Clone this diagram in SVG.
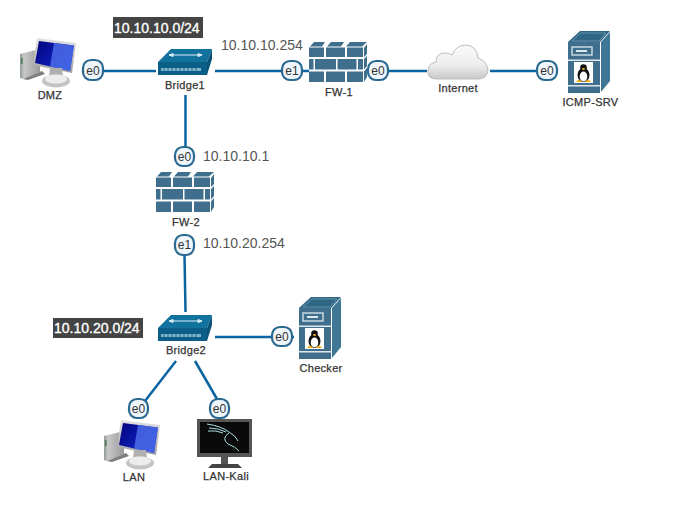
<svg xmlns="http://www.w3.org/2000/svg" width="686" height="515" viewBox="0 0 686 515">
<style>
.lbl{font:11px "Liberation Sans",Arial,sans-serif;fill:#333;stroke:#333;stroke-width:.25;letter-spacing:.3px;text-anchor:middle}
.ip{font:14px "Liberation Sans",Arial,sans-serif;fill:#555}
.net{font:14px "Liberation Sans",Arial,sans-serif;fill:#fff;stroke:#fff;stroke-width:.35}
.netbg{fill:#444}
.badge rect{fill:#eef6fc;stroke:#2b688f;stroke-width:2.2}
.badge text{font:12px "Liberation Sans",Arial,sans-serif;fill:#333;text-anchor:middle}
.conn{stroke:#0a64a0;stroke-width:2.5;fill:none}
.t{fill:#3f6f8c}
</style>
<defs>
<linearGradient id="scr" x1="0" y1="0" x2="1" y2="0.600"><stop offset="0" stop-color="#04047c"/><stop offset="1" stop-color="#1028d0"/></linearGradient>
<linearGradient id="grey" x1="0" y1="0" x2="0" y2="1"><stop offset="0" stop-color="#e4e4e4"/><stop offset="1" stop-color="#a0a0a0"/></linearGradient>
<linearGradient id="tw" x1="0" y1="0" x2="1" y2="0"><stop offset="0" stop-color="#8f9a94"/><stop offset="0.200" stop-color="#c8c8c8"/><stop offset="1" stop-color="#9a9a9a"/></linearGradient>
<linearGradient id="cl" x1="0" y1="0" x2="0" y2="1"><stop offset="0" stop-color="#fbfbfb"/><stop offset="0.600" stop-color="#ececec"/><stop offset="1" stop-color="#c8c8c8"/></linearGradient>
<g id="fw">
<path class="t" d="M1 4.500 5 0H16L13 4.500ZM18 4.500 22 0H35L32 4.500ZM37 4.500 41 0H58L53 4.500Z"/>
<rect class="t" x="0" y="5.500" width="15" height="9.500"/><rect class="t" x="17" y="5.500" width="19" height="9.500"/><rect class="t" x="38" y="5.500" width="16" height="9.500"/>
<rect class="t" x="0" y="17" width="4.500" height="10.500"/><rect class="t" x="6" y="17" width="21" height="10.500"/><rect class="t" x="28.500" y="17" width="19" height="10.500"/><rect class="t" x="49" y="17" width="5" height="10.500"/>
<rect class="t" x="0" y="29.500" width="15" height="10.500"/><rect class="t" x="17" y="29.500" width="19" height="10.500"/><rect class="t" x="38" y="29.500" width="16" height="10.500"/>
<path class="t" d="M55 6 58 2V12L55 15ZM55 17 58 14V24L55 27.500ZM55 29.500 58 26V35L55 40Z"/>
</g>
<g id="br">
<path fill="#12729e" d="M0 13 13 0H54L49 13Z"/>
<path fill="#0b5f87" d="M0 13H49V26H0Z"/>
<path fill="#0a5478" d="M49 13 54 0V10L49 26Z"/>
<path d="M11 6H44M11 6l4-1.500v3ZM44 6l-4-1.500v3Z" stroke="#d7eef8" stroke-width="1" fill="#d7eef8"/>
<rect x="3" y="19" width="40" height="3" fill="#7fb4cc"/>
<path d="M6 19v3M10 19v3M14 19v3M18 19v3M22 19v3M26 19v3M30 19v3M34 19v3M38 19v3" stroke="#0b5f87" stroke-width="0.800"/>
</g>
<g id="srv">
<path fill="#2f6685" d="M0 11 12 0H42L32 11Z"/>
<path fill="none" stroke="#7ea3b8" stroke-width="0.700" d="M4 10 13 2H38L31 10Z"/>
<path fill="#3f7896" d="M33 11 42 1V50L33 61Z"/>
<rect x="0" y="11" width="32" height="51" fill="#3f6f8c"/>
<rect x="4" y="16" width="20" height="8" fill="none" stroke="#dce8ee" stroke-width="1.300"/>
<rect x="8" y="19" width="11" height="2" fill="#dce8ee"/>
<rect x="0" y="28.500" width="32" height="1.500" fill="#dce8ee"/>
<rect x="6" y="31" width="19" height="21" fill="#fff"/>
<ellipse cx="15.500" cy="44" rx="6" ry="7" fill="#111"/>
<ellipse cx="15.500" cy="45.500" rx="3.800" ry="5" fill="#fff"/>
<circle cx="15.500" cy="36.500" r="3.300" fill="#111"/>
<ellipse cx="15.500" cy="38" rx="1.500" ry="0.900" fill="#f2b01e"/>
<path d="M8 51q3-5 6 0ZM17 51q3-5 6 0Z" fill="#f2b01e"/>
<rect x="0" y="54" width="32" height="1.500" fill="#dce8ee"/>
</g>
<g id="pc">
<path fill="url(#tw)" d="M0 16 20 11V34L3 41 0 40Z"/>
<rect x="1" y="20" width="1.500" height="6" fill="#4a7a5a"/>
<path fill="#7f7f7f" d="M3 41 22 33 25 36 8 42Z"/>
<path fill="url(#grey)" d="M17 0 56 5 52 35 13 27Z"/>
<path fill="url(#scr)" d="M19 3 54 7.500 50 33 15 25Z"/>
<path fill="#4f70ea" opacity="0.800" d="M34 5 54 7.500 50 33 30 28.500Z"/>
<path fill="#b0b0b0" d="M30 30H42L43 39H29Z"/>
<ellipse cx="36" cy="43" rx="14" ry="6.500" fill="#c4c4c4"/>
<ellipse cx="36" cy="41" rx="11" ry="4.500" fill="#ededed"/>
</g>
</defs>
<g id="connectors">
<path class="conn" d="M104 71H156"/>
<path class="conn" d="M215 71H282"/>
<path class="conn" d="M302 71H309"/>
<path class="conn" d="M388 71H427"/>
<path class="conn" d="M490 71H537"/>
<path class="conn" d="M185.500 95V147"/>
<path class="conn" d="M184.500 255 185.500 312"/>
<path class="conn" d="M215 337H272"/>
<path class="conn" d="M292 337H294"/>
<path class="conn" d="M176 361 145 401"/>
<path class="conn" d="M195 361 217 399"/>
</g>
<g id="net-10-10-10"><rect class="netbg" x="113" y="17" width="90" height="21"/><text class="net" x="114" y="33">10.10.10.0/24</text></g>
<g id="net-10-10-20"><rect class="netbg" x="53" y="318" width="90" height="20"/><text class="net" x="54" y="333">10.10.20.0/24</text></g>
<g id="DMZ"><use href="#pc" x="20" y="38"/><text class="lbl" x="50" y="99">DMZ</text></g>
<g id="Bridge1"><use href="#br" x="158" y="49"/><text class="lbl" x="185" y="89">Bridge1</text></g>
<g id="FW-1"><use href="#fw" x="309" y="42"/><text class="lbl" x="339" y="96">FW-1</text></g>
<g id="Internet">
<path fill="url(#cl)" stroke="#bdbdbd" stroke-width="1" d="M436 79Q427 79 428 70Q429 63 436 62Q436 53 445 53Q449 53 452 55Q456 45 466 45Q477 46 478 58Q487 61 488 70Q487 79 478 79Z"/>
<text class="lbl" x="458" y="92">Internet</text></g>
<g id="ICMP-SRV"><use href="#srv" x="568" y="31"/><text class="lbl" x="590.500" y="106">ICMP-SRV</text></g>
<g id="FW-2"><use href="#fw" x="156" y="172"/><text class="lbl" x="186" y="226">FW-2</text></g>
<g id="Bridge2"><use href="#br" x="158" y="315"/><text class="lbl" x="186" y="354">Bridge2</text></g>
<g id="Checker"><use href="#srv" x="299" y="297"/><text class="lbl" x="321" y="372">Checker</text></g>
<g id="LAN"><use href="#pc" x="104" y="420"/><text class="lbl" x="134" y="481">LAN</text></g>
<g id="LAN-Kali">
<rect x="197" y="419" width="55" height="38" fill="#555"/>
<rect x="200" y="422" width="49" height="31" fill="#0a0a0a"/>
<path d="M207 424Q221 426 229 432Q236 436 238 441M209 428Q218 428 226 432M208 431Q216 430 223 433M229 433Q221 438 228 444Q236 447 239 451" fill="none" stroke="#a8dfe0" stroke-width="1"/>
<rect x="221" y="457" width="7" height="8" fill="#555"/>
<path d="M208 468 212 464H238L242 468Z" fill="#444"/>
<text class="lbl" x="226" y="480">LAN-Kali</text></g>
<g id="badges">
<g class="badge"><rect x="83" y="60" width="20" height="20" rx="8"/><text x="93" y="74.500">e0</text></g>
<g class="badge"><rect x="282" y="61" width="20" height="19" rx="8"/><text x="292" y="75">e1</text></g>
<g class="badge"><rect x="368" y="61" width="20" height="19" rx="8"/><text x="378" y="75">e0</text></g>
<g class="badge"><rect x="537" y="61" width="20" height="19" rx="8"/><text x="547" y="75">e0</text></g>
<g class="badge"><rect x="175" y="147" width="19" height="19" rx="8"/><text x="184.500" y="161">e0</text></g>
<g class="badge"><rect x="175" y="235" width="19" height="20" rx="8"/><text x="184.500" y="249">e1</text></g>
<g class="badge"><rect x="272" y="327" width="20" height="19" rx="8"/><text x="282" y="341">e0</text></g>
<g class="badge"><rect x="129" y="399" width="19" height="19" rx="8"/><text x="138.500" y="413">e0</text></g>
<g class="badge"><rect x="210" y="399" width="19" height="19" rx="8"/><text x="219.500" y="413">e0</text></g>
</g>
<text class="ip" x="221" y="50">10.10.10.254</text>
<text class="ip" x="203" y="161">10.10.10.1</text>
<text class="ip" x="203" y="248">10.10.20.254</text>
</svg>
